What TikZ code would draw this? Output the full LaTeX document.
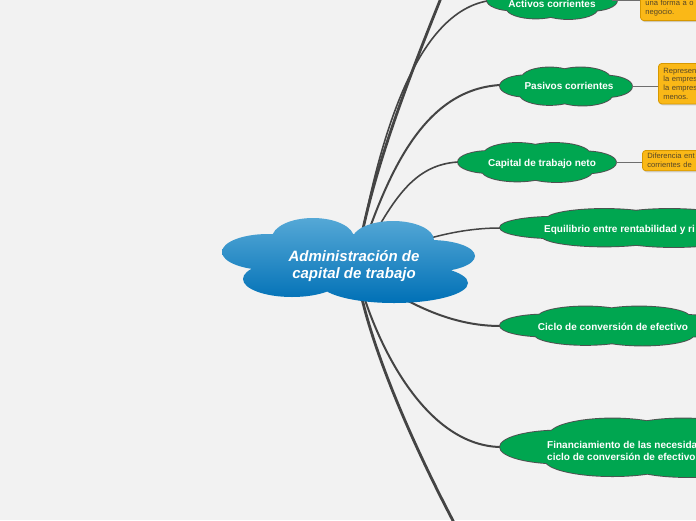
\documentclass[tikz,border=0pt]{standalone}
\usepackage{fontspec}
\setmainfont{Liberation Sans}
\usetikzlibrary{shadows}
\definecolor{bgc}{RGB}{242,242,242}
\definecolor{gnode}{RGB}{0,166,80}
\definecolor{cloudline}{RGB}{80,80,80}
\definecolor{linec}{RGB}{68,68,68}
\definecolor{notef}{RGB}{250,184,23}
\definecolor{noteb}{RGB}{215,152,0}
\definecolor{notet}{RGB}{85,70,40}
\definecolor{blueT}{RGB}{85,168,214}
\definecolor{blueB}{RGB}{0,112,182}
\definecolor{thinc}{RGB}{110,110,110}
\tikzset{
  cloudat/.style n args={4}{insert path={
    (#1-0.25*#3,#2-0.4*#4) ellipse [x radius=0.42*#3, y radius=0.55*#4]
    (#1+0.22*#3,#2-0.38*#4) ellipse [x radius=0.45*#3, y radius=0.57*#4]
    (#1-0.6*#3,#2) ellipse [x radius=0.4*#3, y radius=0.55*#4]
    (#1+0.6*#3,#2+0.02*#4) ellipse [x radius=0.4*#3, y radius=0.55*#4]
    (#1-0.25*#3,#2+0.42*#4) ellipse [x radius=0.45*#3, y radius=0.55*#4]
    (#1+0.25*#3,#2+0.45*#4) ellipse [x radius=0.45*#3, y radius=0.55*#4]
    (#1,#2) ellipse [x radius=0.7*#3, y radius=0.6*#4]
  }},
  conn/.style={draw=linec, line cap=round},
  gtext/.style={text=white, font=\bfseries\fontsize{10}{12}\selectfont, text height=7.2pt, text depth=2pt, inner sep=0pt},
  note/.style={rectangle, rounded corners=3.5pt, fill=notef, draw=noteb, line width=0.8pt,
    text=notet, font=\fontsize{7.6}{8.8}\selectfont, align=left, text width=70pt,
    inner xsep=5pt, inner ysep=4.4pt,
    drop shadow={opacity=0.3, shadow xshift=1pt, shadow yshift=-1.5pt}},
  thin/.style={draw=thinc, line width=0.9pt}
}
\begin{document}
\begin{tikzpicture}[x=1pt,y=-1pt]
\useasboundingbox (0,0) rectangle (696,520);
\fill[bgc] (0,0) rectangle (696,520);
% coordinates
\coordinate (root) at (356,268);
\coordinate (topEnd) at (445,-12);
\coordinate (actL) at (487,1);
\coordinate (pasL) at (500,85);
\coordinate (capL) at (458,162);
\coordinate (equL) at (500,228);
\coordinate (cicL) at (500,326);
\coordinate (finL) at (500,447);
\coordinate (botEnd) at (459,532);
\coordinate (actR) at (612,0);
\coordinate (pasR) at (632,86);
\coordinate (capR) at (616,162);
% connectors
\draw[conn, line width=2.8pt] (root) .. controls (368,180) and (412,70) .. (topEnd);
\draw[conn, line width=1.6pt] (root) .. controls (376,150) and (412,15) .. (actL);
\draw[conn, line width=2pt] (root) .. controls (385,180) and (420,90) .. (pasL);
\draw[conn, line width=1.6pt] (root) .. controls (390,205) and (410,165) .. (capL);
\draw[conn, line width=1.5pt] (root) .. controls (400,245) and (450,228) .. (equL);
\draw[conn, line width=2pt] (root) .. controls (390,292) and (440,326) .. (cicL);
\draw[conn, line width=2pt] (root) .. controls (370,330) and (420,445) .. (finL);
\draw[conn, line width=2.8pt] (root) .. controls (366,340) and (415,450) .. (botEnd);
% green clouds
\foreach \cx/\cy/\ca/\cb in {552/0/65/19, 566/86/66/19.5, 537/162/79/20, 639/227.5/139/19.5, 614/325.5/114/20, 650/447/150/30}{
  \path[draw=cloudline, line width=1.8pt, cloudat={\cx}{\cy}{\ca}{\cb}];
  \path[fill=gnode, cloudat={\cx}{\cy}{\ca}{\cb}];
}
% central cloud
\shade[top color=blueT, bottom color=blueB]
  (313,238) ellipse [x radius=41, y radius=20]
  (393,240) ellipse [x radius=41, y radius=19]
  (268,252) ellipse [x radius=46, y radius=18]
  (430,256) ellipse [x radius=45, y radius=16]
  (292,279) ellipse [x radius=49, y radius=18]
  (394,283) ellipse [x radius=74, y radius=20]
  (350,262) ellipse [x radius=95, y radius=28];
\node[text=white, font=\bfseries\itshape\fontsize{15}{17}\selectfont, align=center] (main) at (354,266) {Administración de\\capital de trabajo};
% green texts
\node[gtext] (act) at (552,5) {Activos corrientes};
\node[gtext] (pas) at (569,87) {Pasivos corrientes};
\node[gtext] (cap) at (542,164) {Capital de trabajo neto};
\node[gtext, anchor=west] (equ) at (544,229.5) {Equilibrio entre rentabilidad y ri};
\node[gtext] (cic) at (613,328) {Ciclo de conversión de efectivo};
\node[gtext, anchor=west, align=left] (fin) at (547,458) {Financiamiento de las necesida\\ciclo de conversión de efectivo};
% notes
\node[note, anchor=south west] (noteA) at (640,21) {una forma a o\\negocio.};
\node[note, anchor=north west] (noteP) at (658,63) {Represen\\la empres\\la empres\\menos.};
\node[note, anchor=north west, inner ysep=3pt] (noteC) at (642,150) {Diferencia ent\\corrientes de};
% thin connectors
\draw[thin] (actR) -- (actR -| noteA.west);
\draw[thin] (pasR) -- (pasR -| noteP.west);
\draw[thin] (capR) -- (capR -| noteC.west);
\end{tikzpicture}
\end{document}
